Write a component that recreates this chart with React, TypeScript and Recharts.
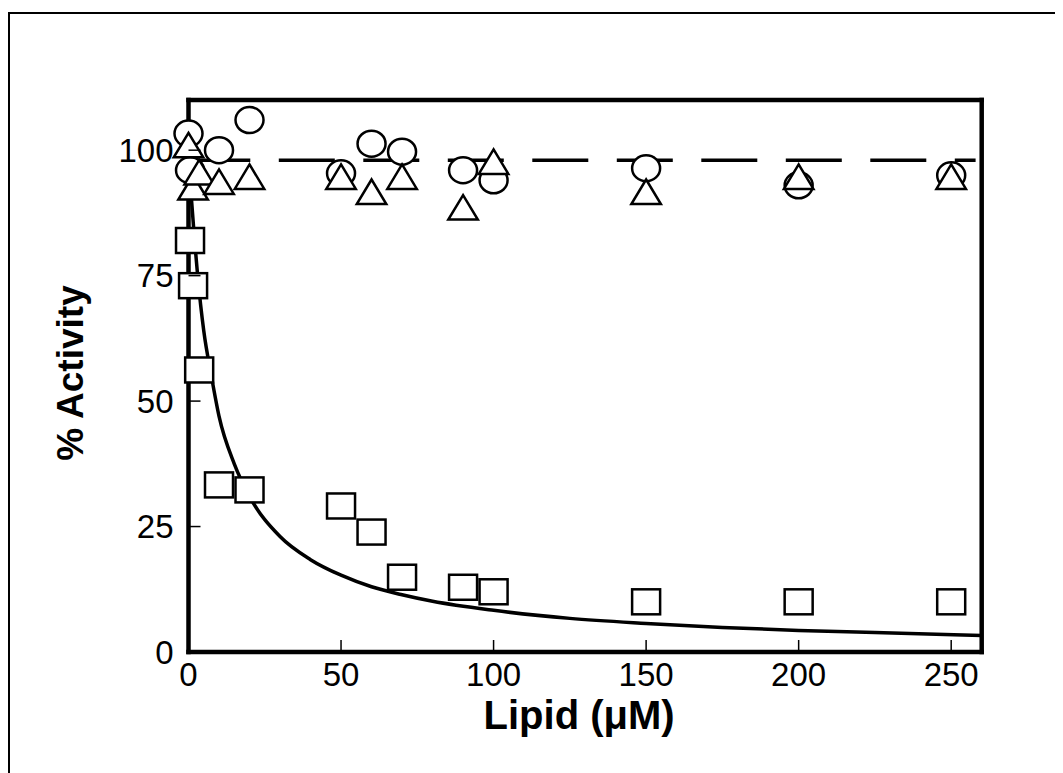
import React from "react";
import { ComposedChart, XAxis, YAxis, Scatter, Line } from "recharts";

const xTicks = [0, 50, 100, 150, 200, 250];
const yTicks = [0, 25, 50, 75, 100];

const squareX = [0.5, 1.5, 3.5, 10, 20, 50, 60, 70, 90, 100, 150, 200, 250];
const squareY = [82, 73, 56.2, 33.3, 32.3, 29.1, 23.9, 14.9, 12.9, 12, 10, 10, 10];

const circleX = [0, 0.5, 10, 20, 50, 60, 70, 90, 100, 150, 200, 250];
const circleY = [103.3, 96, 100, 106, 95.4, 101.3, 99.7, 96, 94, 96.4, 93, 95];

const triangleX = [0, 1.5, 3.5, 10, 20, 50, 60, 70, 90, 100, 150, 200, 250];
const triangleY = [100.2, 91.8, 94.8, 92.9, 93.9, 93.9, 90.9, 93.9, 87.8, 96.9, 90.9, 93.9, 93.9];

const curveX = [0, 1, 2, 3, 5, 7.5, 10, 15, 20, 30, 40, 50, 60, 70, 80, 100, 125, 150, 175, 200, 225, 260];
const curveY = [100, 90, 82, 75, 64, 55, 47, 37.5, 31, 23, 18.4, 15.3, 13, 11.4, 10.1, 8.3, 6.7, 5.7, 4.9, 4.3, 3.9, 3.3];

const dashX = [1.9, 258];
const dashY = [98, 98];

const pts = (xs: number[], ys: number[]) => xs.map((x, i) => ({ x, y: ys[i] }));

const squares = pts(squareX, squareY);
const circles = pts(circleX, circleY);
const triangles = pts(triangleX, triangleY);
const curve = pts(curveX, curveY);
const dash = pts(dashX, dashY);

const FONT = "'Liberation Sans', Arial, Helvetica, sans-serif";
const SW = 2.5;

const SquareShape = (p: any) => (
  <rect x={p.cx - 14} y={p.cy - 12.5} width={28} height={25} fill="#fff" stroke="#000" strokeWidth={SW} />
);
const CircleShape = (p: any) => (
  <ellipse cx={p.cx} cy={p.cy} rx={14} ry={13} fill="#fff" stroke="#000" strokeWidth={SW} />
);
const TriangleShape = (p: any) => {
  const w = 29.5;
  const h = 24.5;
  const d = `M${p.cx},${p.cy - (2 * h) / 3} L${p.cx + w / 2},${p.cy + h / 3} L${p.cx - w / 2},${p.cy + h / 3} Z`;
  return <path d={d} fill="#fff" stroke="#000" strokeWidth={SW} strokeLinejoin="miter" />;
};

const XTick = (props: any) => {
  const { x, y, payload } = props;
  return (
    <g>
      <line x1={x} y1={y} x2={x} y2={y - 12} stroke="#000" strokeWidth={1.5} />
      <text x={x} y={y + 11} dy="0.71em" textAnchor="middle" fontSize={33} fontFamily={FONT} fill="#000">
        {payload.value}
      </text>
    </g>
  );
};

const YTick = (props: any) => {
  const { x, y, payload } = props;
  return (
    <g>
      <line x1={x} y1={y} x2={x + 12} y2={y} stroke="#000" strokeWidth={1.5} />
      <text x={x - 15} y={y} dy="0.355em" textAnchor="end" fontSize={33} fontFamily={FONT} fill="#000">
        {payload.value}
      </text>
    </g>
  );
};

const XLabel = (props: any) => {
  const vb = props.viewBox;
  return (
    <text
      x={vb.x + vb.width / 2 - 6}
      y={vb.y + 63}
      dy="0.355em"
      textAnchor="middle"
      fontSize={40}
      fontWeight="bold"
      fontFamily={FONT}
      fill="#000"
    >
      Lipid (μM)
    </text>
  );
};

const YLabel = (props: any) => {
  const vb = props.viewBox;
  const cx = vb.x + vb.width - 118.5;
  const cy = vb.y + vb.height / 2 - 3;
  return (
    <text
      x={cx}
      y={cy}
      dy="0.355em"
      textAnchor="middle"
      fontSize={37}
      fontWeight="bold"
      fontFamily={FONT}
      fill="#000"
      transform={`rotate(-90 ${cx} ${cy})`}
    >
      % Activity
    </text>
  );
};

const frameLine = { stroke: "#000", strokeWidth: 4.5, strokeLinecap: "square" as const };

export default function App() {
  return (
    <div style={{ position: "relative", width: 1055, height: 765, overflow: "hidden" }}>
      <div
        style={{
          position: "absolute",
          left: 0,
          top: 4,
          width: 1100,
          height: 800,
          borderTop: "2px solid #000",
          borderLeft: "2px solid #000",
          boxSizing: "border-box",
        }}
      />
      <div style={{ position: "absolute", left: 0, top: 0 }}>
        <ComposedChart
          width={1047}
          height={757}
          margin={{ top: 82, right: 63.3, bottom: 53, left: 80.5 }}
        >
          <XAxis
            xAxisId="b"
            dataKey="x"
            type="number"
            domain={[0, 260]}
            ticks={xTicks}
            height={60}
            tickSize={0}
            tickMargin={0}
            tickLine={false}
            axisLine={frameLine}
            tick={<XTick />}
            interval={0}
            label={<XLabel />}
          />
          <XAxis
            xAxisId="t"
            dataKey="x"
            type="number"
            orientation="top"
            domain={[0, 260]}
            height={10}
            tick={false}
            tickLine={false}
            axisLine={frameLine}
          />
          <YAxis
            yAxisId="l"
            dataKey="y"
            type="number"
            domain={[0, 110]}
            ticks={yTicks}
            width={100}
            tickSize={0}
            tickMargin={0}
            tickLine={false}
            axisLine={frameLine}
            tick={<YTick />}
            interval={0}
            label={<YLabel />}
          />
          <YAxis
            yAxisId="r"
            dataKey="y"
            type="number"
            orientation="right"
            domain={[0, 110]}
            width={10}
            tick={false}
            tickLine={false}
            axisLine={frameLine}
          />
          <Line
            xAxisId="b"
            yAxisId="l"
            data={curve}
            dataKey="y"
            type="monotone"
            stroke="#000"
            strokeWidth={3.5}
            dot={false}
            activeDot={false}
            isAnimationActive={false}
          />
          <Scatter xAxisId="b" yAxisId="l" data={squares} shape={SquareShape} isAnimationActive={false} />
          <Scatter xAxisId="b" yAxisId="l" data={circles} shape={CircleShape} isAnimationActive={false} />
          <Scatter xAxisId="b" yAxisId="l" data={triangles} shape={TriangleShape} isAnimationActive={false} />
          <Line
            xAxisId="b"
            yAxisId="l"
            data={dash}
            dataKey="y"
            type="linear"
            stroke="#000"
            strokeWidth={3.5}
            strokeDasharray="56 28.5"
            dot={false}
            activeDot={false}
            isAnimationActive={false}
          />
        </ComposedChart>
      </div>
    </div>
  );
}
